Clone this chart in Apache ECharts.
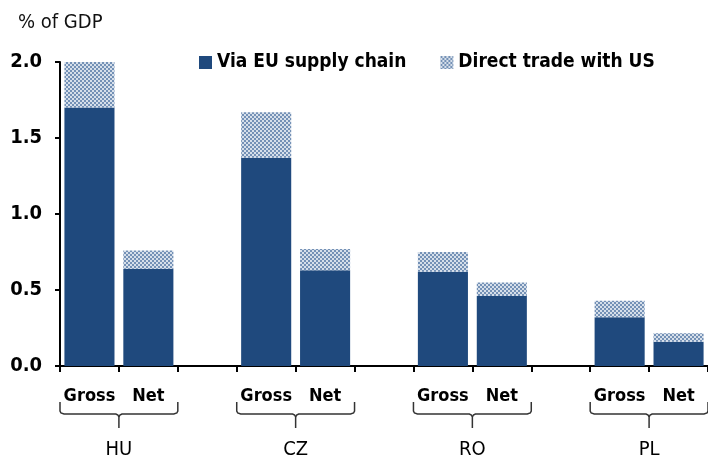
<!DOCTYPE html>
<html>
<head>
<meta charset="utf-8">
<script src="https://cdn.jsdelivr.net/npm/echarts@6/dist/echarts.min.js"></script>
<style>
  html, body { margin: 0; padding: 0; background: #fff; }
  #chart { width: 708px; height: 461px; }
</style>
</head>
<body>
<div id="chart"></div>
<script>
// categories: pairs of Gross / Net per country, with empty spacer slots between
const countries = ['HU', 'CZ', 'RO', 'PL'];
const slots = ['HU|Gross', 'HU|Net', 'gap1', 'CZ|Gross', 'CZ|Net', 'gap2',
               'RO|Gross', 'RO|Net', 'gap3', 'PL|Gross', 'PL|Net'];
const viaEU =      [1.70, 0.64, null, 1.37, 0.63, null, 0.62, 0.46, null, 0.32, 0.16];
const directUS =   [0.30, 0.12, null, 0.30, 0.14, null, 0.13, 0.09, null, 0.11, 0.055];
const yTicks = { min: 0, max: 2, interval: 0.5 };

const FONT = '"DejaVu Sans Condensed", "Liberation Sans", sans-serif';
const NAVY = '#1f497d';

// checkered pattern for the "direct trade" part
function makeChecker() {
    const c = document.createElement('canvas');
    c.width = 4; c.height = 4;
    const ctx = c.getContext('2d');
    ctx.fillStyle = '#d6dfea';
    ctx.fillRect(0, 0, 4, 4);
    ctx.fillStyle = '#7491b6';
    ctx.fillRect(0, 0, 2, 2);
    ctx.fillRect(2, 2, 2, 2);
    return c;
}

const chart = echarts.init(document.getElementById('chart'));

const option = {
    animation: false,
    textStyle: { fontFamily: FONT },
    title: {
        text: '% of GDP',
        left: 13,
        top: 8,
        textStyle: { fontFamily: FONT, fontSize: 20, fontWeight: 'normal', color: '#111' }
    },
    legend: {
        orient: 'horizontal',
        left: 194,
        top: 48,
        width: 500,
        itemWidth: 13,
        itemHeight: 13,
        itemGap: 34,
        icon: 'rect',
        textStyle: { fontFamily: FONT, fontSize: 19, fontWeight: 'bold', color: '#000' },
        data: ['Via EU supply chain', 'Direct trade with US']
    },
    grid: {
        left: 60,
        right: 0,
        top: 62,
        bottom: 95
    },
    xAxis: {
        type: 'category',
        data: slots,
        axisLine: { lineStyle: { color: '#000', width: 2 } },
        axisTick: { show: true, length: 6, lineStyle: { color: '#000', width: 2 } },
        axisLabel: {
            interval: 0,
            margin: 21,
            fontFamily: FONT,
            fontSize: 18,
            fontWeight: 'bold',
            color: '#000',
            formatter: function (v) {
                return v.indexOf('|') >= 0 ? v.split('|')[1] : '';
            }
        }
    },
    yAxis: {
        type: 'value',
        min: yTicks.min,
        max: yTicks.max,
        interval: yTicks.interval,
        splitLine: { show: false },
        axisLine: { show: true, lineStyle: { color: '#000', width: 2 } },
        axisTick: { show: true, length: 5, lineStyle: { color: '#000', width: 2 } },
        axisLabel: {
            margin: 18,
            fontFamily: FONT,
            fontSize: 20,
            fontWeight: 'bold',
            color: '#000',
            formatter: function (v) { return v.toFixed(1); }
        }
    },
    series: [
        {
            name: 'Via EU supply chain',
            type: 'bar',
            stack: 'total',
            barWidth: '85%',
            data: viaEU,
            itemStyle: { color: NAVY }
        },
        {
            name: 'Direct trade with US',
            type: 'bar',
            stack: 'total',
            barWidth: '85%',
            data: directUS,
            itemStyle: { color: { image: makeChecker(), repeat: 'repeat' } }
        }
    ]
};

chart.setOption(option);

// braces and country labels under each Gross/Net pair
function drawGroups() {
    const els = [];
    const y0 = chart.convertToPixel({ yAxisIndex: 0 }, 0);
    const step = chart.convertToPixel({ xAxisIndex: 0 }, 1) - chart.convertToPixel({ xAxisIndex: 0 }, 0);
    countries.forEach(function (c) {
        const gi = slots.indexOf(c + '|Gross');
        const xg = chart.convertToPixel({ xAxisIndex: 0 }, gi);
        const xn = chart.convertToPixel({ xAxisIndex: 0 }, gi + 1);
        const xl = xg - step / 2;
        const xr = xn + step / 2;
        const xc = (xg + xn) / 2;
        const top = y0 + 36, mid = y0 + 48, bot = y0 + 62;
        els.push({
            type: 'polyline',
            shape: {
                points: [
                    [xl, top], [xl, mid - 3], [xl + 1, mid - 1], [xl + 4, mid],
                    [xc - 3, mid], [xc - 1, mid + 1], [xc, mid + 3], [xc, bot]
                ]
            },
            style: { fill: null, stroke: '#333', lineWidth: 1.5 }
        });
        els.push({
            type: 'polyline',
            shape: {
                points: [
                    [xc, mid + 3], [xc + 1, mid + 1], [xc + 3, mid],
                    [xr - 4, mid], [xr - 1, mid - 1], [xr, mid - 3], [xr, top]
                ]
            },
            style: { fill: null, stroke: '#333', lineWidth: 1.5 }
        });
        els.push({
            type: 'text',
            x: xc,
            y: y0 + 84,
            style: {
                text: c,
                fill: '#000',
                font: 'normal 20px ' + FONT,
                align: 'center',
                verticalAlign: 'middle'
            }
        });
    });
    chart.setOption({ graphic: { elements: els } });
}
drawGroups();
</script>
</body>
</html>
